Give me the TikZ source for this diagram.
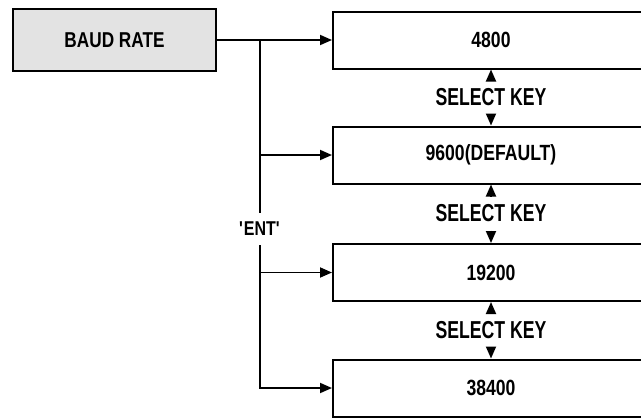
\documentclass[tikz,border=0pt]{standalone}
\usepackage{fontspec}
\setmainfont{Liberation Sans}
\newfontfamily\labfont[FakeStretch=0.72]{Liberation Sans Bold}
\newfontfamily\numfont[FakeStretch=0.8]{Liberation Sans Bold}
\usetikzlibrary{arrows.meta}
\begin{document}
\begin{tikzpicture}[x=1pt,y=-1pt,line width=1.8pt,
  valbox/.style={draw,line width=2pt,minimum width=316pt,minimum height=57pt,inner sep=0pt,font=\numfont\fontsize{22}{22}\selectfont},
  basebox/.style={draw,line width=2pt,fill=gray!22,minimum width=203pt,minimum height=62pt,inner sep=0pt,font=\numfont\fontsize{21.5}{21.5}\selectfont},
  selkey/.style={inner xsep=2pt,inner ysep=7.5pt,font=\labfont\fontsize{24.5}{24.5}\selectfont},
  entlab/.style={fill=white,inner xsep=1pt,inner ysep=9pt,font=\numfont\fontsize{20}{20}\selectfont},
  arr/.style={-{Triangle[length=12pt,width=10pt]}}]
\useasboundingbox (0,0) rectangle (641,418);
\clip (0,0) rectangle (641,418);
\node[basebox] (baud) at (114.5,40) {BAUD RATE};
\node[valbox] (b1) at (491,40) {4800};
\node[valbox] (b2) at (491,155) {9600(DEFAULT)};
\node[valbox] (b3) at (491,272.5) {19200};
\node[valbox] (b4) at (491,388) {38400};
\coordinate (j) at (260,40);
\draw[arr] (baud.east) -- (b1.west);
\draw[arr] (j) |- (b4.west);
\draw[arr] (j |- b2.west) -- (b2.west);
\draw[arr] (j |- b3.west) -- (b3.west);
\node[entlab] (ent) at (260,229) {\textquotesingle ENT\textquotesingle};
\node[selkey] (s1) at (491,97.5) {SELECT KEY};
\node[selkey] (s2) at (491,213.5) {SELECT KEY};
\node[selkey] (s3) at (491,330.5) {SELECT KEY};
\draw[arr] (s1) -- (b1);
\draw[arr] (s1) -- (b2);
\draw[arr] (s2) -- (b2);
\draw[arr] (s2) -- (b3);
\draw[arr] (s3) -- (b3);
\draw[arr] (s3) -- (b4);
\end{tikzpicture}
\end{document}
